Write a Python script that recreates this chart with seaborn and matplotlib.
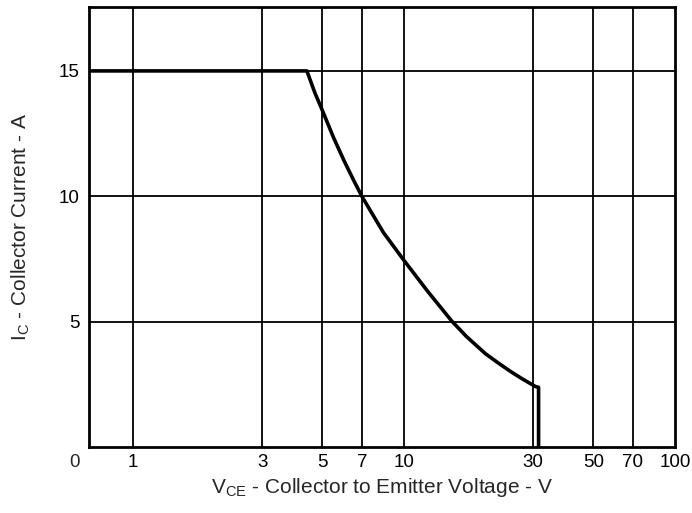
import matplotlib
matplotlib.use("Agg")
import matplotlib.pyplot as plt
import pandas as pd
import seaborn as sns

# safe operating area curve
vce = [0.69, 4.39, 4.7, 5.0, 5.5, 6.0, 6.5, 7.0, 8.4, 10.0, 12.2, 15.0, 17.0,
       20.0, 22.5, 25.0, 27.5, 30.6, 31.4, 31.4]
ic = [15.0, 15.0, 14.12, 13.44, 12.35, 11.45, 10.68, 10.0, 8.56, 7.45, 6.23, 5.03,
      4.41, 3.72, 3.32, 2.98, 2.70, 2.41, 2.38, 0.0]

x_ticks = [1, 3, 5, 7, 10, 30, 50, 70, 100]
x_labels = ["1", "3", "5", "7", "10", "30", "50", "70", "100"]
y_ticks = [5, 10, 15]

sns.set_style("white")
plt.rcParams["font.family"] = ["Liberation Sans", "DejaVu Sans"]
plt.rcParams["mathtext.fontset"] = "custom"
plt.rcParams["mathtext.rm"] = "Liberation Sans"

df = pd.DataFrame({"vce": vce, "ic": ic})

fig = plt.figure(figsize=(6.92, 5.13), dpi=100)
ax = fig.add_axes([0.1286, 0.1287, 0.8468, 0.8577])

ax.set_xscale("log")
ax.set_xlim(0.69, 100)
ax.set_ylim(0, 17.55)

for v in x_ticks[:-1]:
    ax.axvline(v, color="black", lw=1.3, zorder=1)
for v in y_ticks:
    ax.axhline(v, color="black", lw=1.3, zorder=1)

sns.lineplot(data=df, x="vce", y="ic", sort=False, estimator=None,
             color="black", lw=2.6, ax=ax, zorder=3)

ax.set_xticks(x_ticks)
ax.set_xticklabels(x_labels)
ax.xaxis.set_minor_locator(matplotlib.ticker.NullLocator())
ax.set_yticks(y_ticks)
ax.tick_params(axis="x", length=0, labelsize=13.5, colors="black", pad=5)
ax.tick_params(axis="y", length=0, labelsize=13.5, colors="black", pad=7)

# the "0" at the lower-left corner of the log axis
ax.annotate("0", xy=(0, 0), xycoords="axes fraction", xytext=(-10.5, -5),
            textcoords="offset points", ha="center", va="top", fontsize=13.5)

for s in ax.spines.values():
    s.set_color("black")
    s.set_linewidth(2)

ax.set_xlabel(r"V$_\mathregular{CE}$ - Collector to Emitter Voltage - V", fontsize=15, labelpad=4)
ax.set_ylabel(r"I$_\mathregular{C}$ - Collector Current - A", fontsize=15, labelpad=19)

fig.savefig("out.png", dpi=100)
